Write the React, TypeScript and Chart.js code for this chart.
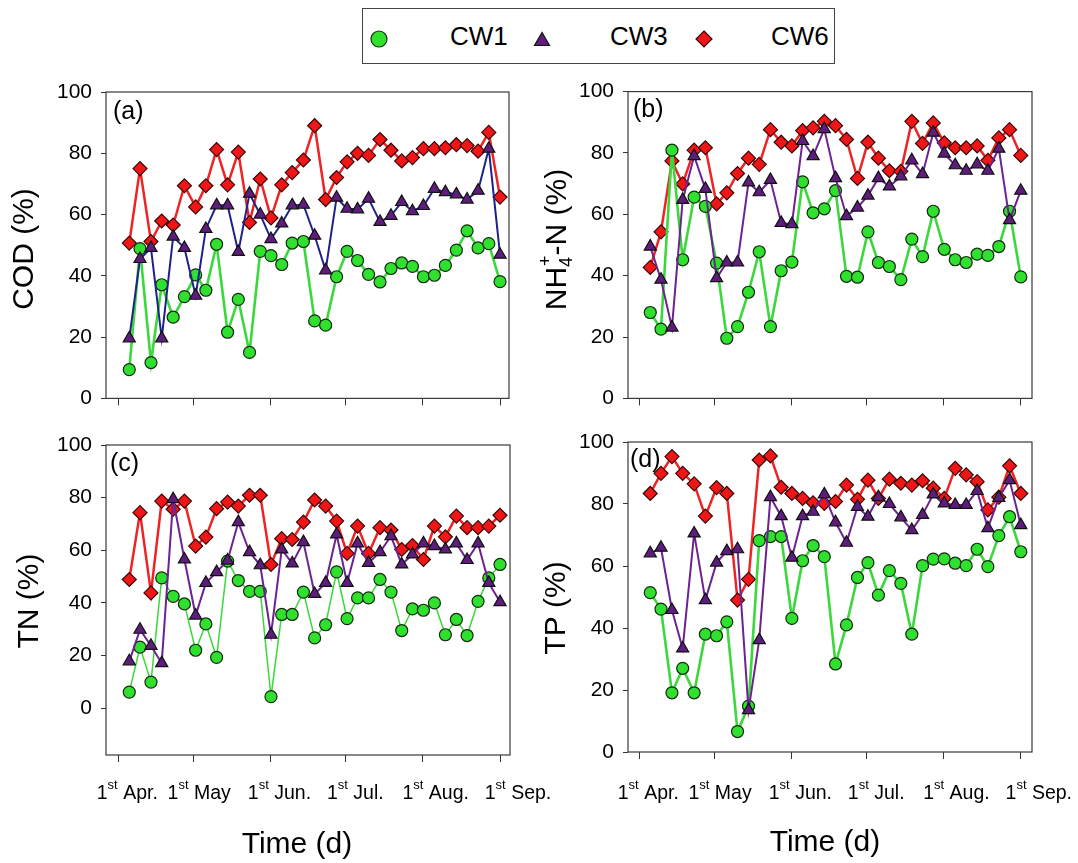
import React, { useEffect, useRef } from 'react';
import { Chart, registerables } from 'chart.js';

Chart.register(...registerables);

const FONT = '"Liberation Sans", Arial, Helvetica, sans-serif';

// ---- data ----
const sampleDays = [4.4, 8.7, 13.1, 17.4, 22, 26.5, 31, 35.1, 39.4, 43.8, 48.1, 52.6, 56.9, 61.2, 65.5, 69.7, 74.2, 78.7, 83.1, 87.5, 91.7, 95.9, 100.3, 104.9, 109.3, 113.6, 117.9, 122.3, 126.7, 131.1, 135.5, 139.8, 144.2, 148.5, 153];
const monthTickDays = [0, 30, 61, 91, 122, 153];
const monthNames = ['Apr.', 'May', 'Jun.', 'Jul.', 'Aug.', 'Sep.'];
const yTickValues = [0, 20, 40, 60, 80, 100];
const seriesNames = ['CW1', 'CW3', 'CW6'];

const codCW1 = [9.4, 48.9, 11.7, 37.1, 26.5, 33.2, 40.3, 35.3, 50.3, 21.6, 32.3, 15.0, 48.0, 46.6, 43.7, 50.7, 51.2, 25.3, 23.9, 39.7, 48.0, 45.0, 40.5, 38.0, 42.4, 44.2, 43.1, 39.7, 40.2, 43.4, 48.4, 54.7, 49.1, 50.5, 38.1];
const codCW3 = [19.6, 45.5, 49.1, 19.6, 52.8, 49.1, 33.5, 55.3, 63.0, 63.0, 47.8, 66.8, 60.0, 52.0, 57.1, 63.0, 63.2, 53.1, 41.8, 65.5, 61.9, 61.7, 65.2, 57.6, 59.6, 64.1, 61.1, 62.8, 68.4, 67.3, 66.6, 64.9, 67.8, 81.5, 46.9];
const codCW6 = [50.7, 75.0, 51.2, 57.9, 56.6, 69.4, 62.5, 69.4, 81.2, 69.7, 80.4, 57.4, 71.6, 58.9, 69.7, 73.7, 77.8, 89.0, 64.9, 72.1, 77.2, 80.0, 79.3, 84.5, 81.0, 77.5, 78.6, 81.5, 81.5, 81.8, 82.8, 82.5, 80.7, 86.8, 65.7];

const nhCW1 = [28.0, 22.6, 80.9, 45.2, 65.6, 62.6, 44.1, 19.6, 23.4, 34.6, 47.8, 23.4, 41.6, 44.4, 70.6, 60.5, 61.8, 67.7, 39.8, 39.5, 54.3, 44.3, 43.0, 38.7, 51.9, 46.2, 61.0, 48.6, 45.2, 44.3, 47.0, 46.6, 49.5, 61.0, 39.6];
const nhCW3 = [49.5, 38.7, 23.1, 64.7, 79.0, 68.3, 39.2, 44.3, 44.3, 70.4, 67.2, 71.2, 57.2, 56.8, 83.9, 79.0, 87.8, 71.8, 59.4, 62.2, 66.1, 71.8, 69.1, 72.4, 77.6, 73.1, 86.6, 79.8, 76.0, 74.2, 76.3, 74.2, 81.4, 58.1, 67.7];
const nhCW6 = [42.7, 54.3, 77.4, 69.9, 80.9, 81.7, 63.4, 67.0, 73.3, 78.3, 76.3, 87.6, 83.5, 82.3, 87.3, 88.2, 90.3, 88.9, 84.4, 71.7, 83.5, 78.3, 74.2, 74.0, 90.3, 83.1, 89.8, 83.3, 81.7, 81.7, 82.3, 77.6, 84.9, 87.6, 79.2];

const tnCW1 = [6.1, 23.2, 9.9, 49.5, 42.5, 39.6, 22.0, 32.0, 19.3, 55.9, 48.5, 44.4, 44.4, 4.4, 35.6, 35.6, 44.1, 26.7, 31.7, 51.8, 34.0, 41.9, 41.9, 48.9, 44.1, 29.5, 37.7, 37.2, 40.0, 27.9, 33.7, 27.6, 40.6, 49.5, 54.6];
const tnCW3 = [17.8, 29.8, 23.7, 17.1, 79.4, 56.5, 35.2, 47.6, 51.7, 56.1, 70.7, 59.3, 54.3, 27.9, 60.3, 55.0, 63.1, 43.4, 47.6, 66.0, 47.6, 62.6, 55.2, 59.3, 65.4, 54.6, 58.4, 62.6, 61.6, 60.3, 62.6, 56.3, 62.6, 47.6, 40.3];
const tnCW6 = [48.9, 74.3, 43.8, 78.7, 75.6, 78.7, 61.6, 65.0, 75.8, 78.3, 76.8, 80.9, 80.9, 54.6, 64.4, 64.1, 70.7, 79.1, 76.8, 71.1, 58.8, 69.2, 58.8, 68.6, 67.7, 60.3, 61.8, 56.5, 69.2, 65.1, 73.0, 68.6, 68.6, 69.2, 73.3];

const tpCW1 = [51.4, 46.1, 19.1, 27.0, 19.1, 38.0, 37.5, 42.0, 6.6, 14.8, 68.2, 69.5, 69.5, 43.1, 61.7, 66.6, 63.0, 28.4, 41.0, 56.3, 61.1, 50.6, 58.5, 54.4, 38.0, 60.1, 62.2, 62.3, 60.9, 60.1, 65.4, 59.8, 69.8, 75.9, 64.6];
const tpCW3 = [64.1, 65.9, 45.8, 33.4, 70.5, 49.0, 61.1, 64.8, 65.4, 13.5, 36.1, 82.2, 76.1, 62.7, 76.1, 77.5, 83.1, 74.1, 67.5, 79.1, 75.9, 82.2, 80.0, 75.7, 71.6, 76.5, 83.1, 80.2, 79.7, 79.7, 84.2, 72.2, 82.0, 87.7, 73.2];
const tpCW6 = [83.4, 89.9, 95.3, 89.9, 86.5, 76.1, 85.3, 83.4, 49.0, 55.7, 94.2, 95.5, 85.4, 83.4, 81.8, 80.4, 80.2, 80.8, 86.1, 81.5, 87.7, 81.8, 88.0, 86.7, 86.1, 87.5, 85.1, 81.8, 91.5, 89.4, 87.2, 78.1, 82.2, 92.3, 83.4];

// ---- styles ----
const GREEN_FILL = '#2fe02f';
const GREEN_LINE = '#3ad83a';
const PURPLE_FILL = '#5e1d7c';
const PURPLE_LINE = '#6c2290';
const NAVY_LINE = '#1d2288';
const RED_FILL = '#ee1616';
const RED_LINE = '#ee2424';
const labelNudge = [9, 6, 9, 10, 13, 18];

type PanelDef = {
  id: string;
  cw1: number[];
  cw3: number[];
  cw6: number[];
  canvas: { left: number; top: number; width: number; height: number };
  area: { left: number; top: number; right: number; bottom: number };
  xMin: number;
  xMax: number;
  yMin: number;
  label: string;
  labelPos: [number, number];
  title: string;
  titlePos: [number, number];
  nh4?: boolean;
  showXLabels: boolean;
  timePos?: [number, number];
  cw1Width: number;
  cw3Line: string;
};

const panels: PanelDef[] = [
  {
    id: 'a', cw1: codCW1, cw3: codCW3, cw6: codCW6,
    canvas: { left: 0, top: 70, width: 575, height: 350 },
    area: { left: 106, top: 22, right: 509, bottom: 332 },
    xMin: -4.93, xMax: 156.6, yMin: 0,
    label: '(a)', labelPos: [113, 42],
    title: 'COD (%)', titlePos: [25, 179],
    showXLabels: false, cw1Width: 2.6, cw3Line: NAVY_LINE,
  },
  {
    id: 'b', cw1: nhCW1, cw3: nhCW3, cw6: nhCW6,
    canvas: { left: 538, top: 70, width: 540, height: 350 },
    area: { left: 90, top: 19, right: 494, bottom: 330 },
    xMin: -4.53, xMax: 157.5, yMin: 0,
    label: '(b)', labelPos: [95, 40],
    title: 'NH4+-N (%)', titlePos: [17, 170], nh4: true,
    showXLabels: false, cw1Width: 2.6, cw3Line: PURPLE_LINE,
  },
  {
    id: 'c', cw1: tnCW1, cw3: tnCW3, cw6: tnCW6,
    canvas: { left: 0, top: 420, width: 575, height: 443 },
    area: { left: 106, top: 25, right: 510, bottom: 335 },
    xMin: -4.93, xMax: 157.0, yMin: -17.8,
    label: '(c)', labelPos: [110, 44],
    title: 'TN (%)', titlePos: [30, 181],
    showXLabels: true, timePos: [297, 433], cw1Width: 1.5, cw3Line: PURPLE_LINE,
  },
  {
    id: 'd', cw1: tpCW1, cw3: tpCW3, cw6: tpCW6,
    canvas: { left: 538, top: 420, width: 540, height: 443 },
    area: { left: 90, top: 22, right: 494, bottom: 332 },
    xMin: -4.53, xMax: 157.5, yMin: 0,
    label: '(d)', labelPos: [92, 40],
    title: 'TP (%)', titlePos: [19, 188],
    showXLabels: true, timePos: [287, 431], cw1Width: 2.6, cw3Line: PURPLE_LINE,
  },
];

function drawMonthLabel(ctx: CanvasRenderingContext2D, cx: number, baseline: number, name: string) {
  const main = `19.5px ${FONT}`;
  const sup = `13px ${FONT}`;
  ctx.font = main;
  const w1 = ctx.measureText('1').width;
  const w3 = ctx.measureText(' ' + name).width;
  ctx.font = sup;
  const w2 = ctx.measureText('st').width;
  let x = cx - (w1 + w2 + w3) / 2;
  ctx.textAlign = 'left';
  ctx.textBaseline = 'alphabetic';
  ctx.font = main;
  ctx.fillText('1', x, baseline);
  x += w1;
  ctx.font = sup;
  ctx.fillText('st', x, baseline - 10);
  x += w2;
  ctx.font = main;
  ctx.fillText(' ' + name, x, baseline);
}

function drawNH4Title(ctx: CanvasRenderingContext2D, cx: number, cy: number) {
  ctx.save();
  ctx.translate(cx, cy);
  ctx.rotate(-Math.PI / 2);
  const big = `30px ${FONT}`;
  const small = `18px ${FONT}`;
  ctx.font = big;
  const wNH = ctx.measureText('NH').width;
  const wRest = ctx.measureText('-N (%)').width;
  ctx.font = small;
  const wS = Math.max(ctx.measureText('4').width, ctx.measureText('+').width);
  let x = -(wNH + wS + wRest) / 2;
  const base = 10.5;
  ctx.textAlign = 'left';
  ctx.textBaseline = 'alphabetic';
  ctx.fillStyle = '#000';
  ctx.font = big;
  ctx.fillText('NH', x, base);
  x += wNH;
  ctx.font = small;
  ctx.fillText('+', x + 1, base - 15);
  ctx.fillText('4', x, base + 6);
  x += wS + 1;
  ctx.font = big;
  ctx.fillText('-N (%)', x, base);
  ctx.restore();
}

function makePlugin(p: PanelDef) {
  return {
    id: 'decor_' + p.id,
    beforeDatasetsDraw(chart: any) {
      const ctx: CanvasRenderingContext2D = chart.ctx;
      const a = chart.chartArea;
      ctx.save();
      ctx.strokeStyle = '#3a3a3a';
      ctx.lineWidth = 1.2;
      ctx.strokeRect(a.left, a.top, a.right - a.left, a.bottom - a.top);
      ctx.fillStyle = '#000';
      ctx.font = `25px ${FONT}`;
      ctx.textAlign = 'left';
      ctx.textBaseline = 'middle';
      ctx.fillText(p.label, p.labelPos[0], p.labelPos[1]);
      ctx.restore();
    },
    afterDraw(chart: any) {
      const ctx: CanvasRenderingContext2D = chart.ctx;
      ctx.save();
      ctx.fillStyle = '#000';
      if (p.nh4) {
        drawNH4Title(ctx, p.titlePos[0], p.titlePos[1]);
      } else {
        ctx.save();
        ctx.translate(p.titlePos[0], p.titlePos[1]);
        ctx.rotate(-Math.PI / 2);
        ctx.font = `30px ${FONT}`;
        ctx.textAlign = 'center';
        ctx.textBaseline = 'middle';
        ctx.fillText(p.title, 0, 0);
        ctx.restore();
      }
      if (p.showXLabels) {
        const xs = chart.scales.x;
        monthTickDays.forEach((d, i) => {
          drawMonthLabel(ctx, xs.getPixelForValue(d) + labelNudge[i], 379, monthNames[i]);
        });
        if (p.timePos) {
          ctx.font = `30px ${FONT}`;
          ctx.textAlign = 'center';
          ctx.textBaseline = 'alphabetic';
          ctx.fillText('Time (d)', p.timePos[0], p.timePos[1]);
        }
      }
      ctx.restore();
    },
  };
}

function PanelChart({ p }: { p: PanelDef }) {
  const ref = useRef<HTMLCanvasElement>(null);
  useEffect(() => {
    const canvas = ref.current;
    if (!canvas) return;
    const pts = (vals: number[]) => sampleDays.map((d, i) => ({ x: d, y: vals[i] }));
    const chart = new Chart(canvas, {
      type: 'line',
      data: {
        datasets: [
          {
            label: seriesNames[0], data: pts(p.cw1), order: 1,
            borderColor: GREEN_LINE, borderWidth: p.cw1Width, tension: 0,
            pointStyle: 'circle', pointRadius: 6, pointBackgroundColor: GREEN_FILL,
            pointBorderColor: '#142a10', pointBorderWidth: 1.2,
          },
          {
            label: seriesNames[1], data: pts(p.cw3), order: 0,
            borderColor: p.cw3Line, borderWidth: 2, tension: 0,
            pointStyle: 'triangle', pointRadius: 7, pointBackgroundColor: PURPLE_FILL,
            pointBorderColor: '#111', pointBorderWidth: 1.2,
          },
          {
            label: seriesNames[2], data: pts(p.cw6), order: 2,
            borderColor: RED_LINE, borderWidth: 2.5, tension: 0,
            pointStyle: 'rectRot', pointRadius: 7, pointBackgroundColor: RED_FILL,
            pointBorderColor: '#3a0808', pointBorderWidth: 1.2,
          },
        ],
      } as any,
      options: {
        animation: false,
        responsive: false,
        devicePixelRatio: 1,
        layout: { padding: { left: 0, top: p.area.top, right: p.canvas.width - p.area.right, bottom: 0 } },
        plugins: { legend: { display: false }, tooltip: { enabled: false } },
        scales: {
          x: {
            type: 'linear', min: p.xMin, max: p.xMax,
            afterBuildTicks: (s: any) => { s.ticks = monthTickDays.map((v) => ({ value: v })); },
            afterFit: (s: any) => { s.height = p.canvas.height - p.area.bottom; },
            ticks: { display: false },
            grid: { drawOnChartArea: false, drawTicks: true, tickLength: 7, color: '#333', lineWidth: 1 },
            border: { display: false },
          },
          y: {
            type: 'linear', min: p.yMin, max: 100,
            afterBuildTicks: (s: any) => { s.ticks = yTickValues.map((v) => ({ value: v })); },
            afterFit: (s: any) => { s.width = p.area.left; },
            ticks: { color: '#000', padding: 9, font: { family: FONT, size: 21 } },
            grid: { drawOnChartArea: false, drawTicks: true, tickLength: 5, color: '#333', lineWidth: 1 },
            border: { display: false },
          },
        },
      } as any,
      plugins: [makePlugin(p)],
    });
    return () => chart.destroy();
  }, [p]);
  return (
    <canvas
      ref={ref}
      width={p.canvas.width}
      height={p.canvas.height}
      style={{ position: 'absolute', left: p.canvas.left, top: p.canvas.top, width: p.canvas.width, height: p.canvas.height }}
    />
  );
}

function Legend() {
  const textStyle: React.CSSProperties = {
    position: 'absolute', top: 0, height: 54, lineHeight: '54px', fontSize: 26, fontFamily: FONT, color: '#000',
  };
  return (
    <div style={{ position: 'absolute', left: 362, top: 8, width: 473, height: 56, border: '1px solid #444', boxSizing: 'border-box', background: '#fff' }}>
      <svg width={471} height={54} style={{ position: 'absolute', left: 0, top: 0 }}>
        <circle cx={16} cy={30} r={8} fill={GREEN_FILL} stroke="#142a10" strokeWidth={1.2} />
        <polygon points="179,23.5 171.5,36.5 186.5,36.5" fill={PURPLE_FILL} stroke="#111" strokeWidth={1.2} />
        <polygon points="341,22 349,30 341,38 333,30" fill={RED_FILL} stroke="#3a0808" strokeWidth={1.2} />
      </svg>
      <span style={{ ...textStyle, left: 87 }}>{seriesNames[0]}</span>
      <span style={{ ...textStyle, left: 247 }}>{seriesNames[1]}</span>
      <span style={{ ...textStyle, left: 408 }}>{seriesNames[2]}</span>
    </div>
  );
}

export default function App() {
  return (
    <div style={{ position: 'fixed', left: 0, top: 0, width: 1078, height: 863, background: '#fff', overflow: 'hidden' }}>
      <Legend />
      {panels.map((p) => (
        <PanelChart key={p.id} p={p} />
      ))}
    </div>
  );
}
